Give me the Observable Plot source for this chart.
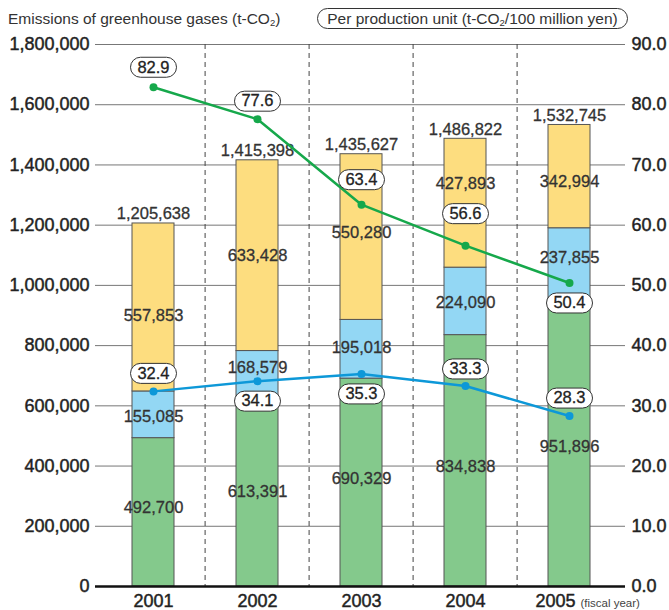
<!DOCTYPE html>
<html><head><meta charset="utf-8">
<script src="https://cdn.jsdelivr.net/npm/d3@7"></script>
<script src="https://cdn.jsdelivr.net/npm/@observablehq/plot@0.6"></script>
<style>
body{margin:0;background:#fff;font-family:"Liberation Sans",Arial,Helvetica,sans-serif;}
#head{position:relative;width:669px;height:34px;}
#t1{position:absolute;left:8px;top:10px;font-size:15.5px;color:#333;line-height:18px;white-space:nowrap}
#t2{position:absolute;left:317px;top:8px;width:309px;height:19px;border:1px solid #333;border-radius:11px;font-size:15.5px;color:#333;line-height:19px;text-align:center;white-space:nowrap}
sub{font-size:9.5px;vertical-align:baseline;position:relative;top:2px}
</style></head><body>
<div id="head"><div id="t1">Emissions of greenhouse gases (t-CO<sub>2</sub>)</div><div id="t2">Per production unit (t-CO<sub>2</sub>/100 million yen)</div></div>
<div id="chart"></div>
<script>
// ---- data ----
const years = ["2001", "2002", "2003", "2004", "2005"];
const bottomSeg = [492700, 613391, 690329, 834838, 951896];
const middleSeg = [155085, 168579, 195018, 224090, 237855];
const topSeg = [557853, 633428, 550280, 427893, 342994];
const totals = [1205638, 1415398, 1435627, 1486822, 1532745];
const upperLine = [82.9, 77.6, 63.4, 56.6, 50.4];
const lowerLine = [32.4, 34.1, 35.3, 33.3, 28.3];
const leftTicks = [0, 200000, 400000, 600000, 800000, 1000000, 1200000, 1400000, 1600000, 1800000];
const rightTicks = [0, 10, 20, 30, 40, 50, 60, 70, 80, 90];

// ---- layout / style ----
const layers = ["bottom", "middle", "top"];
const layerColors = ["#84c98c", "#93d7f4", "#fddd7f"];
const W = 669, H = 576, mTop = 10, mBottom = 24, mLeft = 95, mRight = 44;
const xRange = [99, 623];
const step = (xRange[1] - xRange[0]) / years.length;
const ratio = 1800000 / 90; // right axis -> left axis units
const unitsPerPx = 1800000 / (H - mTop - mBottom);
// label nudges in px (positive = down)
const segNudge = {bottom: [-5, -2, -4, 6, 4], middle: [2, -9, -2, 1, -6], top: [8, 0, -4, -20, 5]};
const upperLabelDy = [-20, -18, -25, -32, 20];
const lowerLabelDy = [-18, 20, 20, -17, -18];

const series = {bottom: bottomSeg, middle: middleSeg, top: topSeg};
const rows = [];
const segLabels = [];
years.forEach((yr, i) => {
  let base = 0;
  layers.forEach(l => {
    const v = series[l][i];
    rows.push({year: yr, layer: l, value: v});
    segLabels.push({year: yr, text: d3.format(",")(v), y: base + v / 2 - segNudge[l][i] * unitsPerPx});
    base += v;
  });
});
const totalRows = years.map((yr, i) => ({year: yr, total: totals[i]}));
const lineRows = (vals, dys) => vals.map((v, i) => ({year: years[i], v, y: v * ratio, ly: v * ratio - dys[i] * unitsPerPx}));
const gRows = lineRows(upperLine, upperLabelDy);
const bRows = lineRows(lowerLine, lowerLabelDy);

const pill = {
  draw(ctx) {
    const w = 46, h = 20, r = 10;
    ctx.moveTo(-w / 2 + r, -h / 2);
    ctx.lineTo(w / 2 - r, -h / 2);
    ctx.arc(w / 2 - r, 0, r, -Math.PI / 2, Math.PI / 2);
    ctx.lineTo(-w / 2 + r, h / 2);
    ctx.arc(-w / 2 + r, 0, r, Math.PI / 2, 3 * Math.PI / 2);
    ctx.closePath();
  }
};

const greenC = "#16a84b", blueC = "#0d98d8";
const ink = "#222";
const axisText = {fontSize: 18, fill: ink, stroke: ink, strokeWidth: 0.45};
const valText = {fontSize: 16.5, fill: "#333", stroke: "#333", strokeWidth: 0.3};

const chart = Plot.plot({
  width: W, height: H,
  marginTop: mTop, marginBottom: mBottom, marginLeft: mLeft, marginRight: mRight,
  style: {fontFamily: '"Liberation Sans", Arial, Helvetica, sans-serif', fontSize: "16px", color: ink, background: "white"},
  x: {type: "band", domain: years, range: xRange, paddingInner: 0.6, paddingOuter: 0.3, axis: null},
  y: {domain: [0, 1800000], axis: null},
  color: {domain: layers, range: layerColors},
  marks: [
    Plot.ruleY(leftTicks.slice(1), {stroke: "#777", strokeWidth: 1}),
    Plot.ruleX(years.slice(1), {x: d => d, dx: -step / 2, stroke: "#444", strokeWidth: 1, strokeDasharray: "5,4"}),
    Plot.barY(rows, {x: "year", y: "value", fill: "layer", stroke: "#555", strokeWidth: 1}),
    Plot.ruleY([0], {stroke: "#111", strokeWidth: 2.5}),
    // left axis labels
    Plot.text(leftTicks, {y: d => d, frameAnchor: "left", textAnchor: "end", dx: -6, text: d => d3.format(",")(d), ...axisText}),
    // right axis labels
    Plot.text(rightTicks, {y: d => d * ratio, frameAnchor: "right", textAnchor: "start", dx: 6, text: d => d.toFixed(1), ...axisText}),
    // x axis labels
    Plot.text(years.slice(0, 4), {x: d => d, frameAnchor: "bottom", lineAnchor: "top", dy: 8, ...axisText}),
    Plot.text(years.slice(4), {x: d => d, frameAnchor: "bottom", lineAnchor: "top", dy: 8, dx: -14, ...axisText}),
    Plot.text(["(fiscal year)"], {x: () => "2005", frameAnchor: "bottom", lineAnchor: "top", dy: 12.5, dx: 11, textAnchor: "start", fontSize: 11.5, fill: "#444"}),
    Plot.text(segLabels, {x: "year", y: "y", text: "text", ...valText}),
    Plot.text(totalRows, {x: "year", y: "total", text: d => d3.format(",")(d.total), lineAnchor: "bottom", dy: -4, ...valText}),
    Plot.line(gRows, {x: "year", y: "y", stroke: greenC, strokeWidth: 2.5}),
    Plot.dot(gRows, {x: "year", y: "y", r: 4, fill: greenC}),
    Plot.line(bRows, {x: "year", y: "y", stroke: blueC, strokeWidth: 2.5}),
    Plot.dot(bRows, {x: "year", y: "y", r: 4, fill: blueC}),
    Plot.dot(gRows.concat(bRows), {x: "year", y: "ly", symbol: pill, r: 5, fill: "white", stroke: "#333", strokeWidth: 1}),
    Plot.text(gRows.concat(bRows), {x: "year", y: "ly", text: d => d.v.toFixed(1), fontSize: 16.5, fill: ink, stroke: ink, strokeWidth: 0.3})
  ]
});
document.getElementById("chart").appendChild(chart);
</script>
</body></html>
